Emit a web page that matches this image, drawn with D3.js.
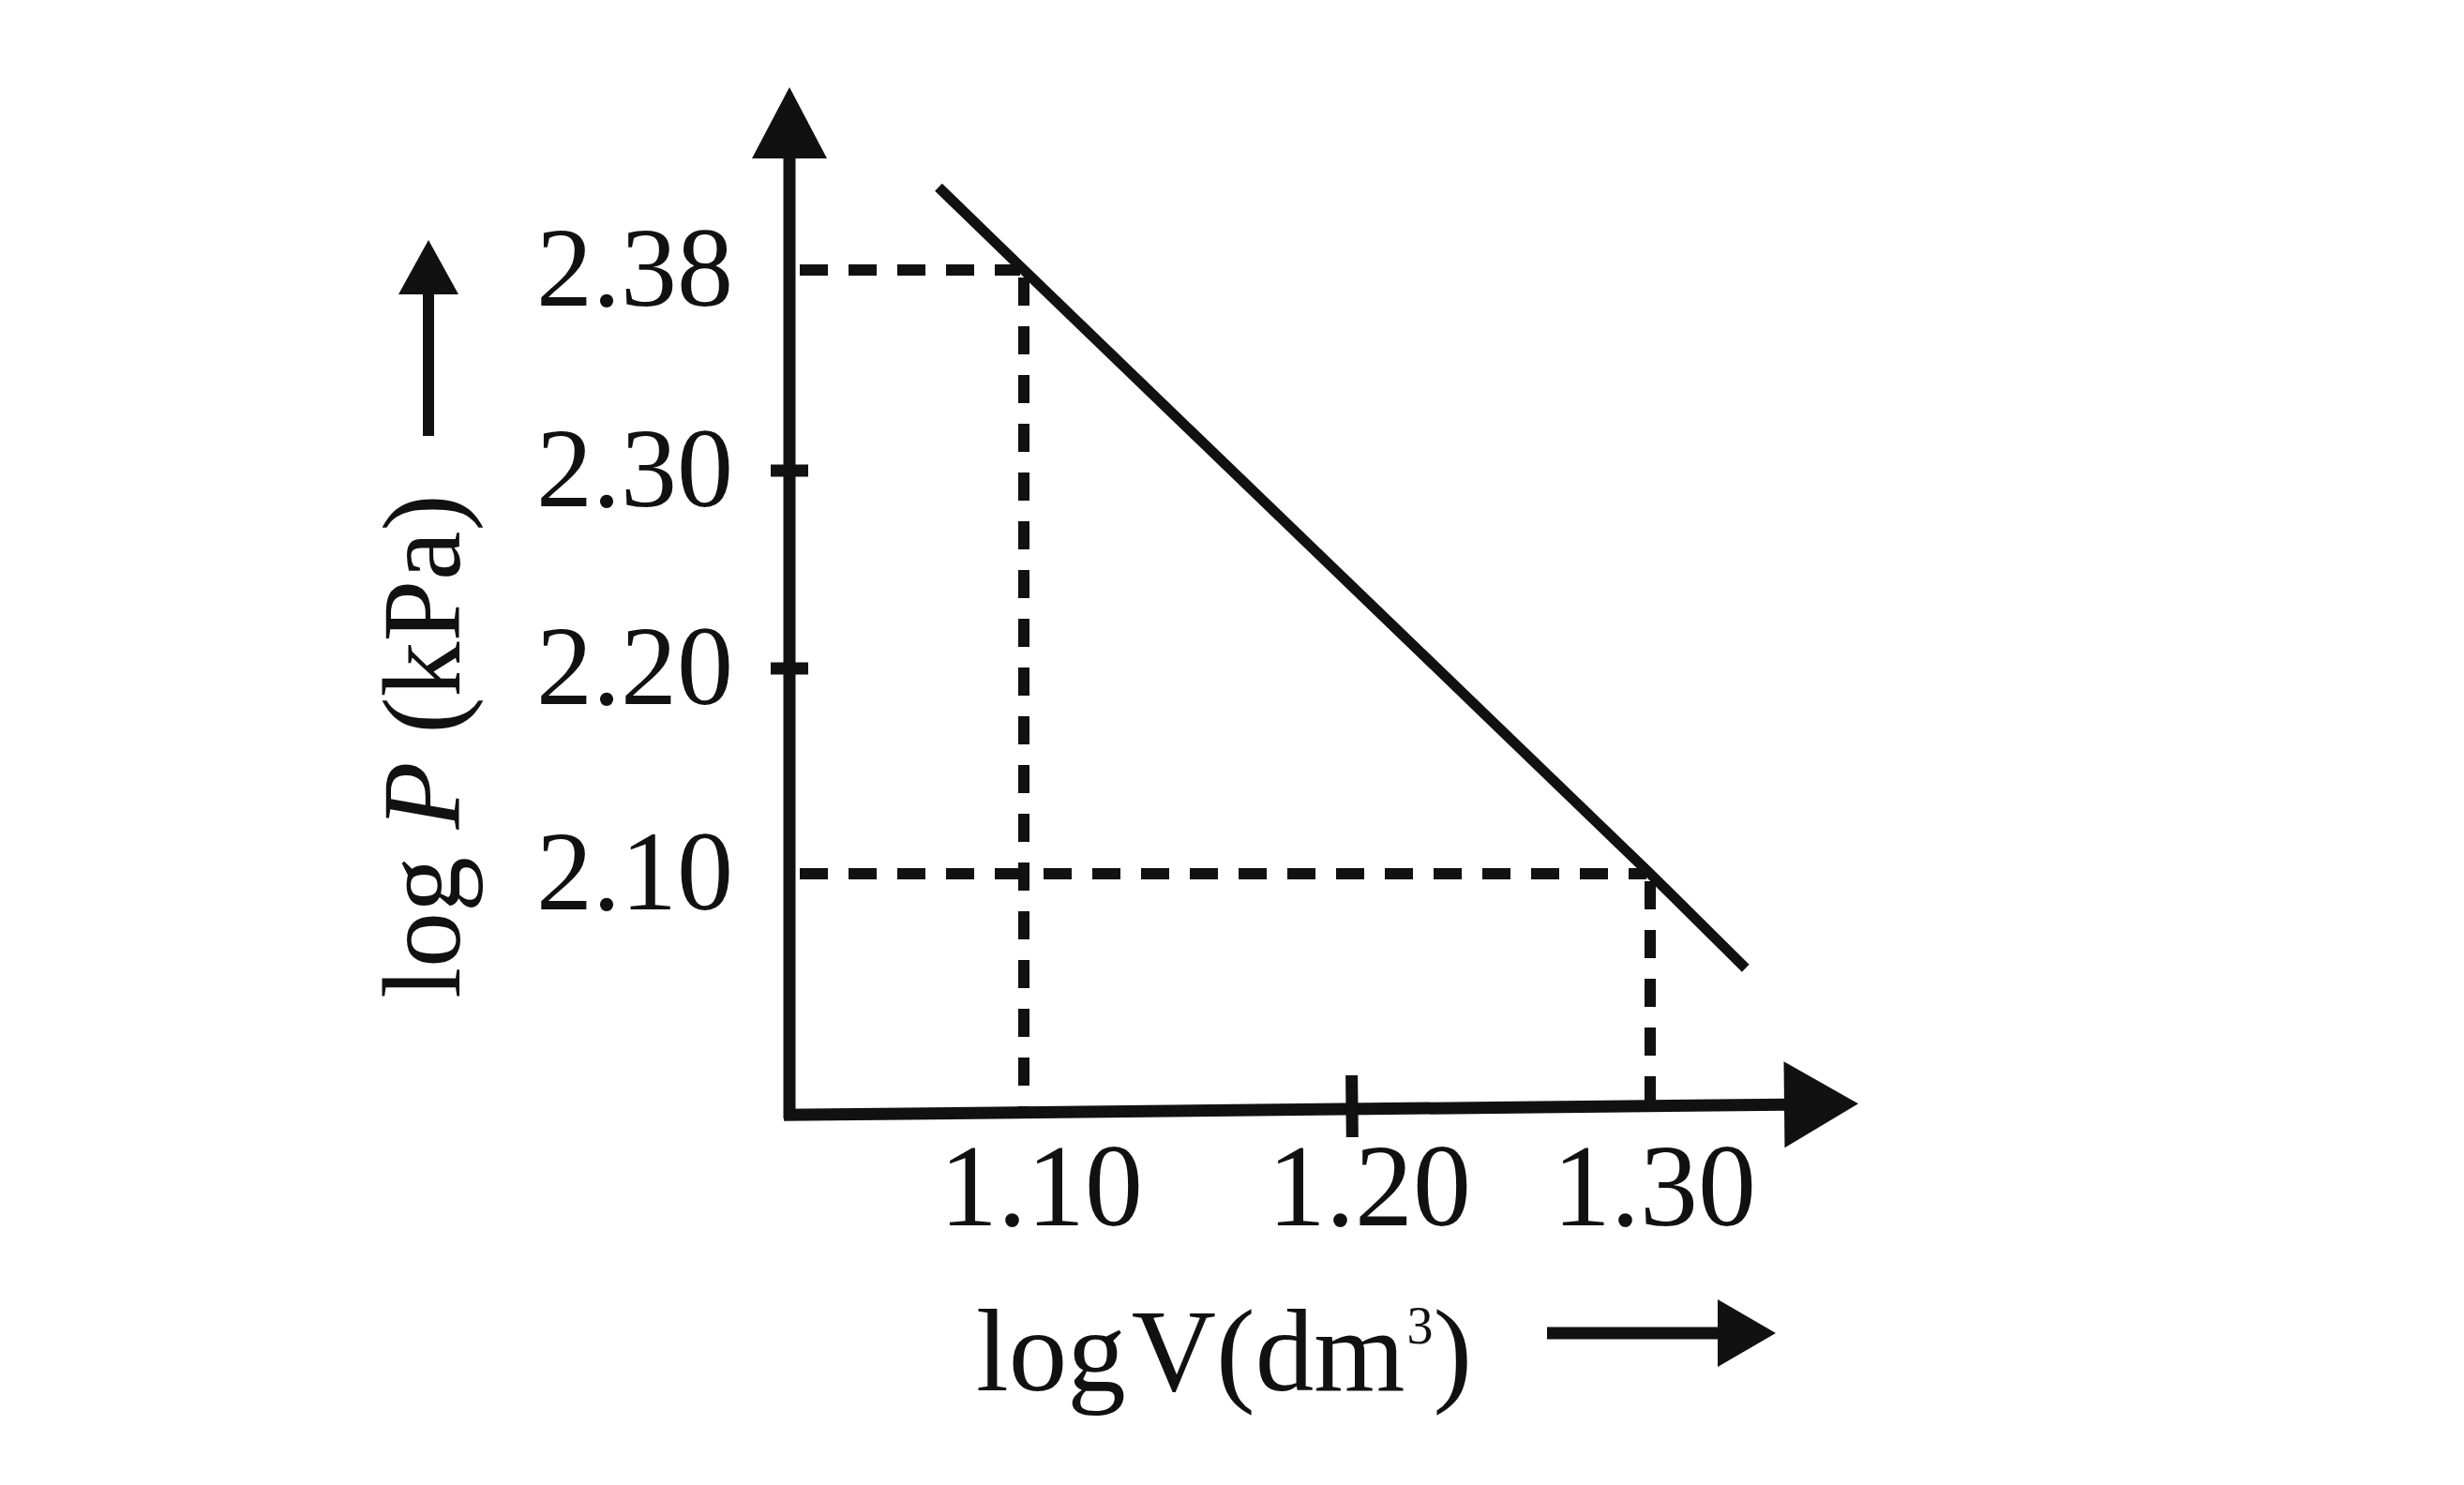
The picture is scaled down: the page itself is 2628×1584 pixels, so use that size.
<!DOCTYPE html>
<html>
<head>
<meta charset="utf-8">
<script src="https://cdn.jsdelivr.net/npm/d3@7"></script>
<style>
html,body{margin:0;padding:0;background:#fff;}
svg{display:block;}
text{font-family:"Liberation Serif","DejaVu Serif",serif;fill:#111;}
</style>
</head>
<body>
<svg id="chart" width="2628" height="1584"></svg>
<script>
// ---- data ----
const xTicks = [1.10, 1.20, 1.30];
const xTickLabels = ["1.10", "1.20", "1.30"];
const yTicks = [2.10, 2.20, 2.30, 2.38];
const yTickLabels = ["2.10", "2.20", "2.30", "2.38"];
const yMinorMarks = [2.20, 2.30];       // ticks drawn across the axis
const xMinorMarks = [1.20];
const lineLogV = [1.074, 1.10, 1.30, 1.332];
const lineLogP = [2.413, 2.38, 2.10, 2.054];
const guideLogV = [1.10, 1.30];
const guideLogP = [2.38, 2.10];

// ---- layout ----
const ink = "#111";
const svg = d3.select("#chart");
svg.append("rect").attr("width", 2628).attr("height", 1584).attr("fill", "#fff");

const x0 = 842, y0 = 1183;   // axis origin in pixels
// schematic (non-uniform) axes: piecewise-linear scales
const x = d3.scaleLinear().domain(xTicks).range([1092, 1442, 1760]);
const y = d3.scaleLinear().domain(yTicks).range([932, 713, 502, 288]);

// ---- guide dashed lines ----
const g = svg.append("g");
guideLogV.forEach((v, i) => {
  const p = guideLogP[i];
  g.append("line")
    .attr("x1", x0 + 11).attr("x2", x(v) - 4)
    .attr("y1", y(p)).attr("y2", y(p))
    .attr("stroke", ink).attr("stroke-width", 12)
    .attr("stroke-dasharray", "30,22");
  g.append("line")
    .attr("x1", x(v)).attr("x2", x(v))
    .attr("y1", y(p) + 8).attr("y2", y0)
    .attr("stroke", ink).attr("stroke-width", 12)
    .attr("stroke-dasharray", "30,22");
});

// ---- main straight line ----
const pts = lineLogV.map((v, i) => [v, lineLogP[i]]);
svg.append("path")
  .attr("d", d3.line().x(d => x(d[0])).y(d => y(d[1]))(pts))
  .attr("fill", "none").attr("stroke", ink).attr("stroke-width", 11);

// ---- axes lines with arrows ----
const yTop = 93, yHeadBase = 169, yHeadHalf = 40;
svg.append("line").attr("x1", x0).attr("x2", x0)
  .attr("y1", yHeadBase - 2).attr("y2", y0 + 10)
  .attr("stroke", ink).attr("stroke-width", 13);
svg.append("path")
  .attr("d", `M${x0},${yTop} L${x0 + yHeadHalf},${yHeadBase} L${x0 - yHeadHalf},${yHeadBase} Z`)
  .attr("fill", ink);

const xTip = 1982, xHeadBase = 1903, xHeadHalf = 46;
const xg = svg.append("g").attr("transform", `rotate(-0.6, ${x(1.20)}, ${y0})`);
xg.append("line").attr("x1", x0 - 6).attr("x2", xHeadBase + 2)
  .attr("y1", y0).attr("y2", y0)
  .attr("stroke", ink).attr("stroke-width", 13);
xg.append("path")
  .attr("d", `M${xTip},${y0} L${xHeadBase},${y0 - xHeadHalf} L${xHeadBase},${y0 + xHeadHalf} Z`)
  .attr("fill", ink);
xMinorMarks.forEach(v => {
  xg.append("line").attr("x1", x(v)).attr("x2", x(v))
    .attr("y1", y0 - 36).attr("y2", y0 + 30)
    .attr("stroke", ink).attr("stroke-width", 13);
});

// cross tick marks on y axis
yMinorMarks.forEach(p => {
  svg.append("line").attr("x1", x0 - 20).attr("x2", x0 + 20)
    .attr("y1", y(p)).attr("y2", y(p))
    .attr("stroke", ink).attr("stroke-width", 13);
});

// ---- tick labels via d3 axes ----
const yAxis = d3.axisLeft(y).tickValues(yTicks)
  .tickFormat((d, i) => yTickLabels[i]).tickSize(0).tickPadding(60);
const ya = svg.append("g").attr("transform", `translate(${x0},0)`).call(yAxis);
ya.select(".domain").remove();
ya.selectAll("text").attr("font-size", 120)
  .attr("font-family", "Liberation Serif").attr("fill", ink).attr("dy", "0.31em");

const xLabelShift = [18, 18, 4];
const xAxis = d3.axisBottom(x).tickValues(xTicks)
  .tickFormat((d, i) => xTickLabels[i]).tickSize(0).tickPadding(36);
const xa = svg.append("g").attr("transform", `translate(0,${y0})`).call(xAxis);
xa.select(".domain").remove();
xa.selectAll("text").attr("font-size", 124)
  .attr("font-family", "Liberation Serif").attr("fill", ink)
  .attr("dx", (d, i) => xLabelShift[i]);

// ---- axis titles ----
const yt = svg.append("text")
  .attr("transform", "translate(490,796) rotate(-90)")
  .attr("text-anchor", "middle").attr("font-size", 118);
yt.append("tspan").text("log ");
yt.append("tspan").attr("font-style", "italic").text("P");
yt.append("tspan").text(" (kPa)");

// y-title arrow
const ax = 457;
svg.append("line").attr("x1", ax).attr("x2", ax).attr("y1", 465).attr("y2", 310)
  .attr("stroke", ink).attr("stroke-width", 12);
svg.append("path").attr("d", `M${ax},256 L${ax + 32},314 L${ax - 32},314 Z`).attr("fill", ink);

const xt = svg.append("text").attr("x", 1041).attr("y", 1483)
  .attr("font-size", 125);
xt.append("tspan").text("log");
xt.append("tspan").attr("dx", 6).text("V(dm");
xt.append("tspan").attr("font-size", 56).attr("dy", -50).attr("dx", 2).text("3");
xt.append("tspan").attr("dy", 50).text(")");

// x-title arrow
svg.append("line").attr("x1", 1650).attr("x2", 1836).attr("y1", 1422).attr("y2", 1422)
  .attr("stroke", ink).attr("stroke-width", 13);
svg.append("path").attr("d", "M1894,1422 L1832,1386 L1832,1458 Z").attr("fill", ink);
</script>
</body>
</html>
